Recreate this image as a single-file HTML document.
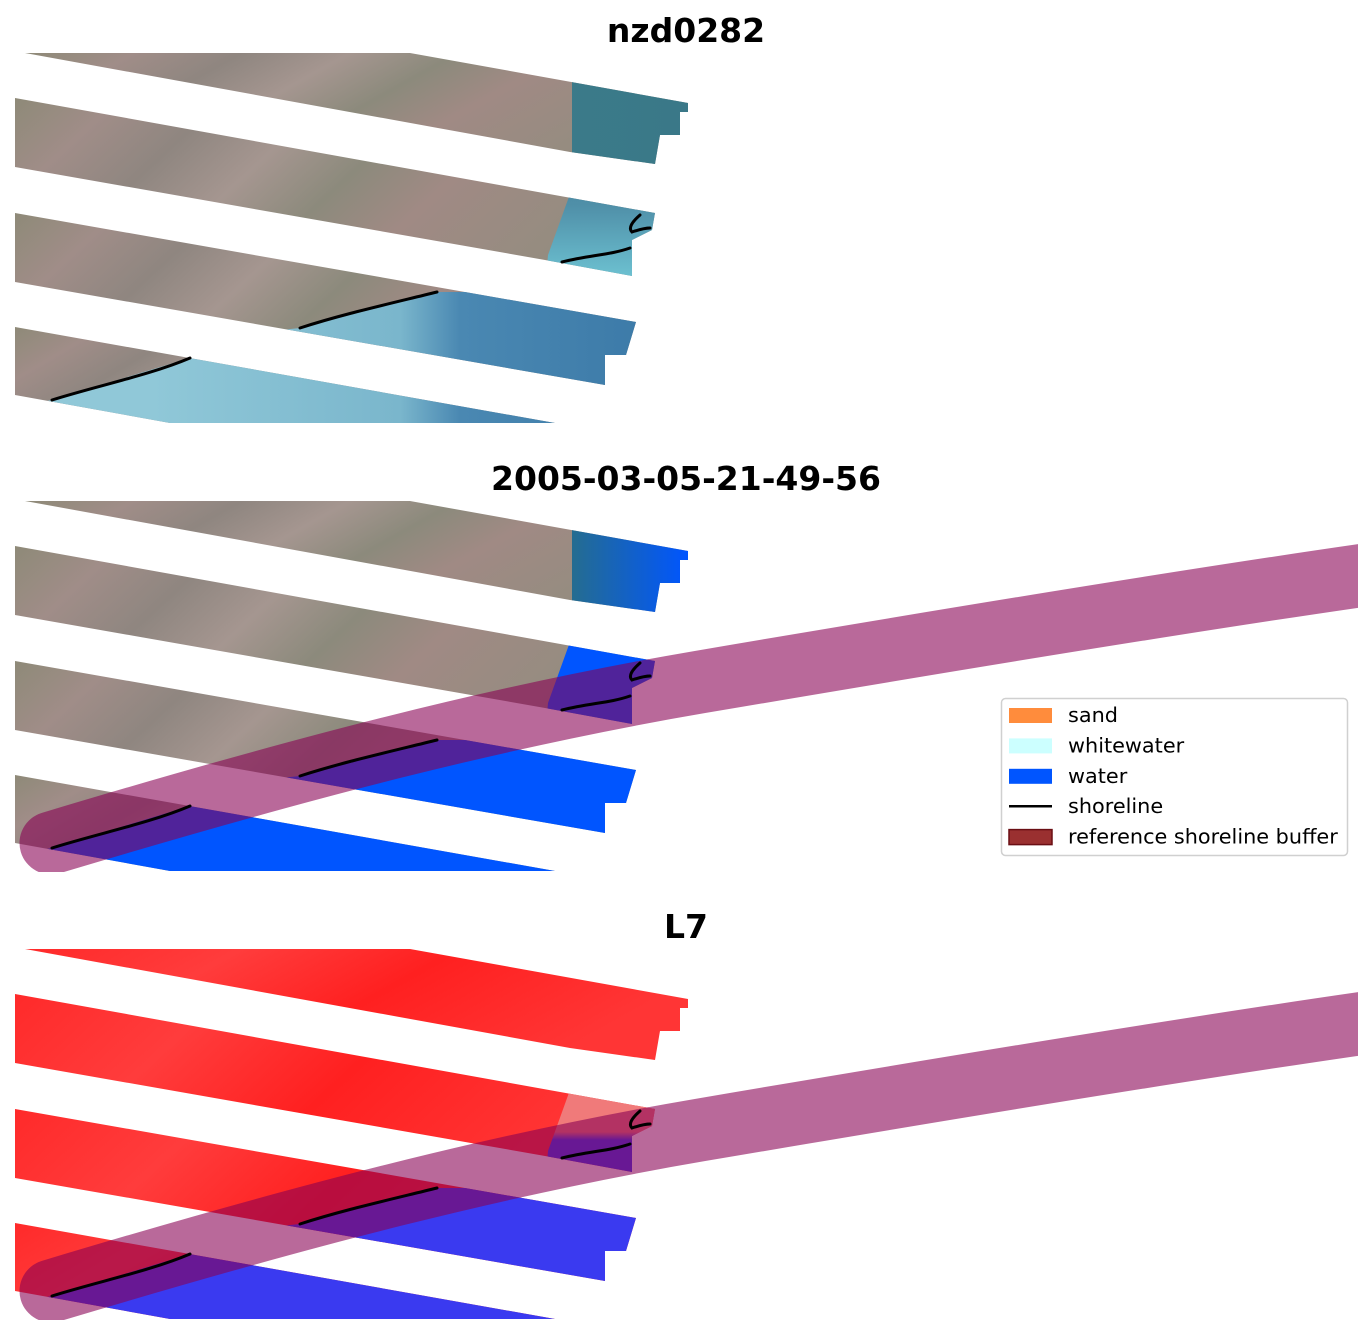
<!DOCTYPE html>
<html><head><meta charset="utf-8"><style>
html,body{margin:0;padding:0;background:#fff;}
svg{display:block;}
text{font-family:"DejaVu Sans","Liberation Sans",sans-serif;}
</style></head><body>
<svg id="s" width="1372" height="1337" viewBox="0 0 1372 1337" xmlns="http://www.w3.org/2000/svg">
<defs>
<linearGradient id="land" x1="0" y1="0" x2="1" y2="0.3">
<stop offset="0" stop-color="#8e8a78"/><stop offset="0.15" stop-color="#a08d88"/><stop offset="0.3" stop-color="#8f8680"/>
<stop offset="0.45" stop-color="#a59690"/><stop offset="0.6" stop-color="#8c8a7c"/><stop offset="0.75" stop-color="#a08a84"/><stop offset="1" stop-color="#958c80"/>
</linearGradient>
<linearGradient id="landR" x1="0" y1="0" x2="1" y2="0.3">
<stop offset="0" stop-color="#ff2a2a"/><stop offset="0.3" stop-color="#ff3c3c"/><stop offset="0.6" stop-color="#ff2020"/><stop offset="1" stop-color="#ff3535"/>
</linearGradient>
<linearGradient id="w1" gradientUnits="userSpaceOnUse" x1="150" y1="0" x2="650" y2="0">
<stop offset="0" stop-color="#90c8d8"/><stop offset="0.5" stop-color="#7ab6cc"/><stop offset="0.62" stop-color="#4a88b2"/><stop offset="1" stop-color="#3c7aa8"/>
</linearGradient>
<linearGradient id="wA" x1="0" y1="0" x2="1" y2="0"><stop offset="0" stop-color="#3f8690"/><stop offset="1" stop-color="#3a7888"/></linearGradient>
<linearGradient id="wB" x1="0" y1="0" x2="0" y2="1"><stop offset="0" stop-color="#3f7f92"/><stop offset="0.6" stop-color="#4f8fa8"/><stop offset="1" stop-color="#6cc0d0"/></linearGradient>
<linearGradient id="w2A" x1="0" y1="0" x2="1" y2="0"><stop offset="0" stop-color="#2a7080"/><stop offset="0.25" stop-color="#0a5cf0"/><stop offset="0.7" stop-color="#1a60d0"/><stop offset="0.8" stop-color="#2a7080"/><stop offset="1" stop-color="#0055ff"/></linearGradient>
<linearGradient id="w3B" gradientUnits="userSpaceOnUse" x1="0" y1="200" x2="0" y2="280"><stop offset="0" stop-color="#f07a7a"/><stop offset="0.45" stop-color="#f07a7a"/><stop offset="0.55" stop-color="#3a3af0"/><stop offset="1" stop-color="#3a3af0"/></linearGradient>
</defs>
</svg>
<script>
const s=document.getElementById('s');
const NS='http://www.w3.org/2000/svg';
function el(tag,attrs,parent){const e=document.createElementNS(NS,tag);for(const k in attrs)e.setAttribute(k,attrs[k]);(parent||s).appendChild(e);return e;}
const strips={
A:"25,53 410,53 688,103 688,112 680,112 680,135 660,135 655,164 570,152",
B:"15,98 655,213 652,230 632,240 632,276 545,260 15,167",
C:"15,213 636,322 626,355 605,355 605,385 15,282",
D:"15,327 555,423 170,423 15,395"};
const water={
A:"572,60 700,60 700,175 572,175",
B:"575,180 700,180 700,290 545,290 548,255",
C:"0,420 0,360 300,328 437,292 700,292 700,420",
D:"0,430 0,410 52,400 190,358 700,358 700,430"};
const titles=["nzd0282","2005-03-05-21-49-56","L7"];
for(let p=0;p<3;p++){
 const off=p*448;
 const g=el('g',{transform:`translate(0,${off})`});
 const cp=el('clipPath',{id:'pc'+p},g);
 el('rect',{x:0,y:53,width:1358,height:371},cp);
 const gg=el('g',{'clip-path':`url(#pc${p})`},g);
 for(const k of ['A','B','C','D']){
  el('polygon',{points:strips[k],fill:p==2?'url(#landR)':'url(#land)'},gg);
  if(p==2&&k=='A') continue;
  const c=el('clipPath',{id:`c${p}${k}`},gg);
  el('polygon',{points:water[k]},c);
  let fill;
  if(p==0) fill = k=='A'?'url(#wA)':k=='B'?'url(#wB)':'url(#w1)';
  else if(p==1) fill = k=='A'?'url(#w2A)':'#0055ff';
  else fill = k=='B'?'url(#w3B)':'#3a3af0';
  el('polygon',{points:strips[k],fill:fill,'clip-path':`url(#c${p}${k})`},gg);
 }
 if(p>0){
  const bc=el('clipPath',{id:'bc'+p},g);
  el('rect',{x:0,y:53,width:1358,height:371},bc);
  el('path',{d:"M51,395 C300,320 500,268 700,234 S1200,150 1400,122",fill:'none',stroke:'rgb(136,0,83)','stroke-opacity':0.59,'stroke-width':63,'stroke-linecap':'round','clip-path':`url(#bc${p})`},g);
 }
 const sl={fill:'none',stroke:'#000','stroke-width':3,'stroke-linecap':'round'};
 el('path',Object.assign({d:"M300,328 C340,315 380,306 437,292"},sl),g);
 el('path',Object.assign({d:"M52,400 C100,385 150,375 190,358"},sl),g);
 el('path',Object.assign({d:"M562,262 C590,255 610,255 630,248"},sl),g);
 el('path',Object.assign({d:"M640,215 C632,222 628,228 632,232 C638,230 644,228 650,228"},sl),g);
 const t=el('text',{x:686,y:42,'text-anchor':'middle','font-size':33,'font-weight':'bold',fill:'#000'},g);
 t.textContent=titles[p];
}
// legend
const lg=el('g',{});
el('rect',{x:1001.5,y:698.5,width:346,height:157,rx:4,fill:'#fff',stroke:'#d0d0d0','stroke-width':1.5},lg);
const items=[["sand","#ff8c3c"],["whitewater","#ccffff"],["water","#0055ff"],["shoreline",null],["reference shoreline buffer","#9a3030"]];
items.forEach((it,i)=>{
 const cy=715+i*30.4;
 if(it[1]){const r=el('rect',{x:1009,y:cy-7,width:43,height:15,fill:it[1]},lg);if(i==4){r.setAttribute('stroke','#6a0e14');r.setAttribute('stroke-width',1.5);}}
 else el('line',{x1:1009,y1:cy,x2:1052,y2:cy,stroke:'#000','stroke-width':2.5},lg);
 const t=el('text',{x:1068,y:cy+7,'font-size':20.8,fill:'#000'},lg);t.textContent=it[0];
});
</script>
</body></html>
